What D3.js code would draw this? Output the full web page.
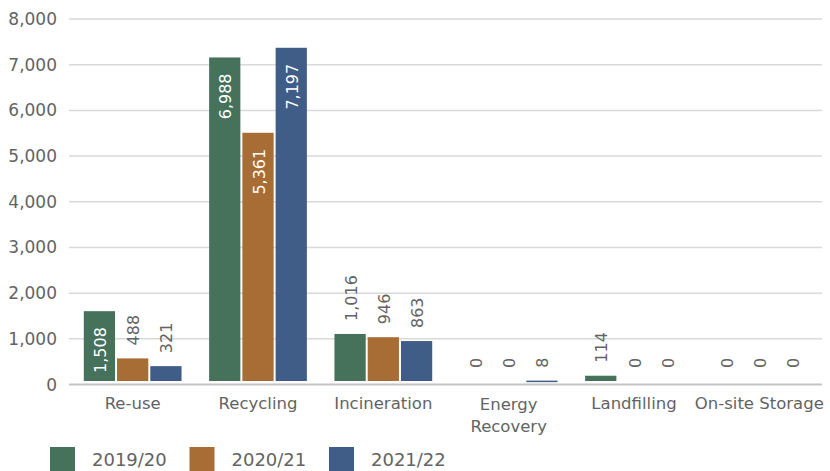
<!DOCTYPE html>
<html>
<head>
<meta charset="utf-8">
<script src="https://cdn.jsdelivr.net/npm/d3@7"></script>
<style>
  html, body { margin: 0; padding: 0; background: #fff; }
  svg { display: block; }
  text { font-family: "DejaVu Sans", sans-serif; }
</style>
</head>
<body>
<svg id="chart" width="830" height="471"></svg>
<script>
const categories = ["Re-use", "Recycling", "Incineration", "Energy Recovery", "Landfilling", "On-site Storage"];
const seriesNames = ["2019/20", "2020/21", "2021/22"];
const values2019 = [1508, 6988, 1016, 0, 114, 0];
const values2020 = [488, 5361, 946, 0, 0, 0];
const values2021 = [321, 7197, 863, 8, 0, 0];
const tickValues = [0, 1000, 2000, 3000, 4000, 5000, 6000, 7000, 8000];
const colors = ["#46725c", "#a86c35", "#405d87"];

const seriesValues = [values2019, values2020, values2021];
const svg = d3.select("#chart");
const textColor = "#636363";

const x0 = d3.scaleBand().domain(categories).range([70, 822]).paddingInner(0.22).paddingOuter(0.11);
const x1 = d3.scaleBand().domain(seriesNames).range([0, x0.bandwidth()]).paddingInner(0.06);
const y = d3.scaleLinear().domain([0, 8000]).range([384.5, 19]);
const yb = d3.scaleLinear().domain([0, 8000]).range([381, 381 - 8000 * 0.0463]);

// gridlines
svg.append("g").selectAll("line").data(tickValues.filter(d => d > 0)).join("line")
  .attr("x1", 69).attr("x2", 822)
  .attr("y1", d => y(d)).attr("y2", d => y(d))
  .attr("stroke", "#d9d9d9").attr("stroke-width", 1.5);
// zero axis line
svg.append("line").attr("x1", 69).attr("x2", 822).attr("y1", y(0)).attr("y2", y(0))
  .attr("stroke", "#c4c4c4").attr("stroke-width", 2);

// y tick labels
svg.append("g").selectAll("text").data(tickValues).join("text")
  .attr("x", 57).attr("y", d => y(d))
  .attr("text-anchor", "end").attr("dominant-baseline", "central")
  .attr("font-size", 17).attr("fill", textColor)
  .text(d => d3.format(",")(d));

// bars
const rows = [];
categories.forEach((c, i) => seriesNames.forEach((s, j) => rows.push({ c, s, j, v: seriesValues[j][i] })));
const g = svg.append("g");
g.selectAll("rect").data(rows.filter(d => d.v > 0)).join("rect")
  .attr("x", d => x0(d.c) + x1(d.s))
  .attr("width", x1.bandwidth())
  .attr("y", d => yb(d.v))
  .attr("height", d => Math.max(1.5, yb(0) - yb(d.v)))
  .attr("fill", d => colors[d.j]);

// data labels
const insideThreshold = 1400;
g.selectAll("text").data(rows).join("text")
  .attr("transform", d => {
    const cx = x0(d.c) + x1(d.s) + x1.bandwidth() / 2 + 1;
    const inside = d.v >= insideThreshold;
    const yy = inside ? yb(d.v) + 16 : yb(d.v) - 13;
    return `translate(${cx},${yy}) rotate(-90)`;
  })
  .attr("text-anchor", d => d.v >= insideThreshold ? "end" : "start")
  .attr("dominant-baseline", "central")
  .attr("font-size", 16)
  .attr("fill", d => d.v >= insideThreshold ? "#ffffff" : textColor)
  .text(d => d3.format(",")(d.v));

// category labels
const catG = svg.append("g");
categories.forEach(c => {
  const cx = x0(c) + x0.bandwidth() / 2;
  const words = c === "Energy Recovery" ? ["Energy", "Recovery"] : [c];
  const t = catG.append("text").attr("x", cx).attr("y", 409)
    .attr("text-anchor", "middle").attr("font-size", 16.5).attr("fill", textColor);
  words.forEach((w, k) => t.append("tspan").attr("x", cx).attr("dy", k === 0 ? (words.length > 1 ? 1 : 0) : 22).text(w));
});

// legend
const legend = svg.append("g");
const lx = d3.scaleLinear().domain([0, 1]).range([50, 189.5]);
seriesNames.forEach((s, j) => {
  legend.append("rect").attr("x", lx(j)).attr("y", 447).attr("width", 25).attr("height", 25).attr("fill", colors[j]);
  legend.append("text").attr("x", lx(j) + 42).attr("y", 466).attr("font-size", 18).attr("fill", textColor).text(s);
});
</script>
</body>
</html>
